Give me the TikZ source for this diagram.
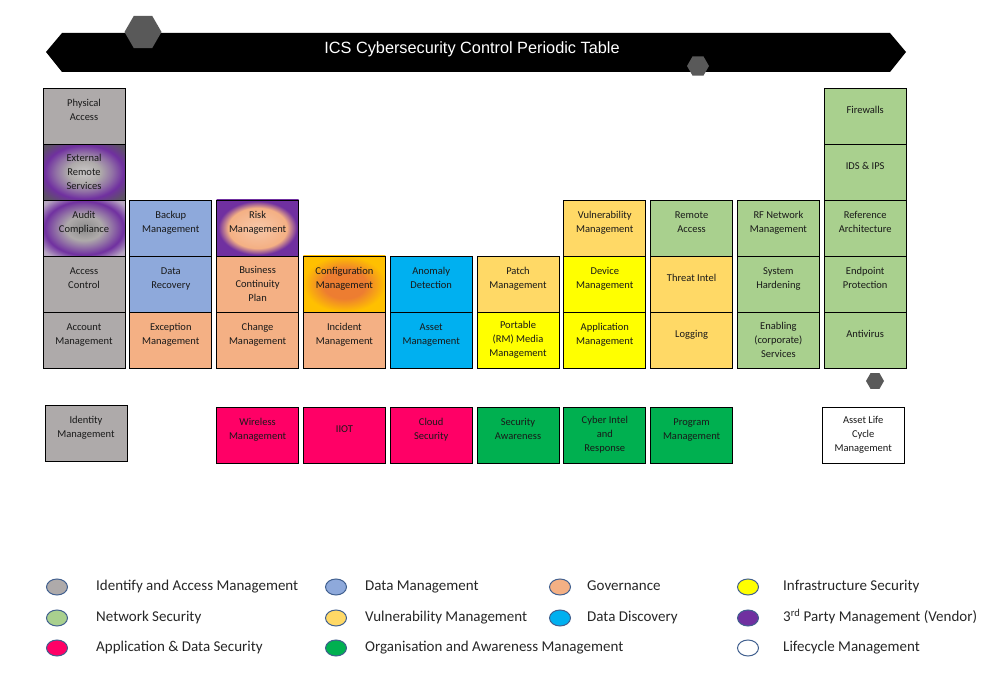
\documentclass[tikz,border=0pt]{standalone}
\usepackage{fontspec}
\setmainfont{Carlito}
\newfontfamily\titlefont{Liberation Sans}
\usetikzlibrary{positioning, shapes.geometric}

\definecolor{iamgray}{HTML}{AEAAAA}
\definecolor{datablue}{HTML}{8EA9DB}
\definecolor{govpeach}{HTML}{F4B084}
\definecolor{infrayel}{HTML}{FFFF00}
\definecolor{netgreen}{HTML}{A9D08E}
\definecolor{vulngold}{HTML}{FFD966}
\definecolor{disccyan}{HTML}{00B0F0}
\definecolor{vendpurple}{HTML}{7030A0}
\definecolor{apppink}{HTML}{FF0066}
\definecolor{orggreen}{HTML}{00B050}
\definecolor{hexgray}{HTML}{595959}
\definecolor{dotline}{HTML}{41608F}
\definecolor{cfgorange}{HTML}{ED7D31}
\definecolor{cfggold}{HTML}{FFC000}

\pgfdeclareradialshading{extring}{\pgfpointorigin}{color(0bp)=(iamgray!65!white); color(10bp)=(iamgray); color(17bp)=(iamgray!55!vendpurple); color(24bp)=(vendpurple); color(32bp)=(hexgray!80!vendpurple); color(50bp)=(hexgray)}
\pgfdeclareradialshading{auditring}{\pgfpointorigin}{color(0bp)=(hexgray!70!white); color(11bp)=(iamgray); color(17bp)=(iamgray!55!vendpurple); color(24bp)=(vendpurple); color(32bp)=(vendpurple!35!iamgray!70!white); color(50bp)=(iamgray!75!white)}
\pgfdeclareradialshading{riskring}{\pgfpointorigin}{color(0bp)=(govpeach!70!white); color(18bp)=(govpeach); color(24bp)=(vendpurple); color(50bp)=(vendpurple)}
\pgfdeclareradialshading{cfgring}{\pgfpointorigin}{color(0bp)=(cfgorange); color(13bp)=(cfgorange); color(25bp)=(cfggold); color(50bp)=(cfggold)}

\tikzset{
    cellgap/.store in=\celldrop, cellgap=12pt,
    cell/.style={draw, line width=0.8pt, minimum width=82pt, minimum height=56pt, inner sep=1pt, outer sep=0pt, align=center,
        font=\fontsize{10.5}{14}\selectfont, text=black!90, execute at end node={\rule[-\celldrop]{0pt}{1pt}}},
    iam/.style={cell, fill=iamgray},
    datam/.style={cell, fill=datablue},
    gov/.style={cell, fill=govpeach},
    infra/.style={cell, fill=infrayel},
    netsec/.style={cell, fill=netgreen},
    vuln/.style={cell, fill=vulngold},
    disc/.style={cell, fill=disccyan},
    appsec/.style={cell, fill=apppink},
    org/.style={cell, fill=orggreen},
    life/.style={cell, fill=white},
    hexa/.style={regular polygon, regular polygon sides=6, fill=hexgray, inner sep=0pt, outer sep=0pt},
    legdot/.style={draw=dotline, line width=1pt, ellipse, minimum width=21pt, minimum height=16pt, inner sep=0pt},
    legtext/.style={inner sep=0pt, anchor=west, text height=10.5pt, text depth=3.5pt, font=\fontsize{15}{18}\selectfont, text=black!85}
}

\begin{document}
\begin{tikzpicture}[x=1pt, y=-1pt, node distance=4.8pt]
  \useasboundingbox (0,0) rectangle (991,687);

  % title banner
  \fill (46,52) -- (62,33) -- (890,33) -- (906,52) -- (890,72) -- (62,72) -- cycle;
  \node(T)[text=white, font=\titlefont\fontsize{16.3}{19}\selectfont] at (472,49) {ICS Cybersecurity Control Periodic Table};
  \node(HA)[hexa, minimum size=37pt] at (143,32) {};
  \node(HB)[hexa, minimum size=22pt] at (698,66) {};

  % bottom row of the table
  \node(AM)[iam] at (84,340) {Account\\Management};
  \node(EM)[gov, right=of AM]{Exception\\Management};
  \node(CM)[gov, right=of EM]{Change\\Management};
  \node(IM)[gov, right=of CM]{Incident\\Management};
  \node(ASM)[disc, right=of IM]{Asset\\Management};
  \node(PRM)[infra, cellgap=0pt, right=of ASM]{Portable\\(RM) Media\\Management};
  \node(APM)[infra, right=of PRM]{Application\\Management};
  \node(LOG)[vuln, right=of APM]{Logging};
  \node(ECS)[netsec, cellgap=0pt, right=of LOG]{Enabling\\(corporate)\\Services};
  \node(AV)[netsec, right=of ECS]{Antivirus};

  % columns
  \node(ACC)[iam, above=0pt of AM]{Access\\Control};
  \node(AUD)[cell, shade, shading=auditring, above=0pt of ACC]{Audit\\Compliance};
  \node(ERS)[cell, shade, shading=extring, cellgap=0pt, above=0pt of AUD]{External\\Remote\\Services};
  \node(PA)[iam, above=0pt of ERS]{Physical\\Access};

  \node(DR)[datam, above=0pt of EM]{Data\\Recovery};
  \node(BM)[datam, above=0pt of DR]{Backup\\Management};

  \node(BCP)[gov, cellgap=0pt, above=0pt of CM]{Business\\Continuity\\Plan};
  \node(RM)[cell, shade, shading=riskring, above=0pt of BCP]{Risk\\Management};

  \node(CFG)[cell, shade, shading=cfgring, above=0pt of IM]{Configuration\\Management};
  \node(AD)[disc, above=0pt of ASM]{Anomaly\\Detection};
  \node(PM)[vuln, above=0pt of PRM]{Patch\\Management};

  \node(DM)[infra, above=0pt of APM]{Device\\Management};
  \node(VM)[vuln, above=0pt of DM]{Vulnerability\\Management};

  \node(TI)[vuln, above=0pt of LOG]{Threat Intel};
  \node(RA)[netsec, above=0pt of TI]{Remote\\Access};

  \node(SH)[netsec, above=0pt of ECS]{System\\Hardening};
  \node(RF)[netsec, above=0pt of SH]{RF Network\\Management};

  \node(EP)[netsec, above=0pt of AV]{Endpoint\\Protection};
  \node(RFA)[netsec, above=0pt of EP]{Reference\\Architecture};
  \node(IDS)[netsec, above=0pt of RFA]{IDS \& IPS};
  \node(FW)[netsec, above=0pt of IDS]{Firewalls};

  \node(HC)[hexa, minimum size=18pt] at (875,381) {};

  % detached row
  \node(IDM)[iam, below=37pt of AM, xshift=2pt]{Identity\\Management};
  \node(WM)[appsec, below=39pt of CM]{Wireless\\Management};
  \node(IIOT)[appsec, right=of WM]{IIOT};
  \node(CS)[appsec, right=of IIOT]{Cloud\\Security};
  \node(SA)[org, right=of CS]{Security\\Awareness};
  \node(CIR)[org, cellgap=0pt, right=of SA]{Cyber Intel\\and\\Response};
  \node(PGM)[org, right=of CIR]{Program\\Management};
  \node(ALM)[life, cellgap=0pt, below=39pt of AV, xshift=-2pt]{Asset Life\\Cycle\\Management};

  % legend
  \node(L1)[legdot, fill=iamgray] at (57,587) {};
  \node(L2)[legdot, fill=datablue] at (336,587) {};
  \node(L3)[legdot, fill=govpeach] at (560,587) {};
  \node(L4)[legdot, fill=infrayel] at (748,587) {};
  \node(L5)[legdot, fill=netgreen] at (57,618) {};
  \node(L6)[legdot, fill=vulngold] at (336,618) {};
  \node(L7)[legdot, fill=disccyan] at (560,618) {};
  \node(L8)[legdot, fill=vendpurple] at (748,618) {};
  \node(L9)[legdot, fill=apppink] at (57,648) {};
  \node(L10)[legdot, fill=orggreen] at (336,648) {};
  \node(L11)[legdot, fill=white] at (748,648) {};

  \node(T1)[legtext, right=28pt of L1]{Identify and Access Management};
  \node(T2)[legtext, right=18pt of L2]{Data Management};
  \node(T3)[legtext, right=16pt of L3]{Governance};
  \node(T4)[legtext, right=24pt of L4]{Infrastructure Security};
  \node(T5)[legtext, right=28pt of L5]{Network Security};
  \node(T6)[legtext, right=18pt of L6]{Vulnerability Management};
  \node(T7)[legtext, right=16pt of L7]{Data Discovery};
  \node(T8)[legtext, right=24pt of L8]{3\textsuperscript{rd} Party Management (Vendor)};
  \node(T9)[legtext, right=28pt of L9]{Application \& Data Security};
  \node(T10)[legtext, right=18pt of L10]{Organisation and Awareness Management};
  \node(T11)[legtext, right=24pt of L11]{Lifecycle Management};
\end{tikzpicture}
\end{document}
